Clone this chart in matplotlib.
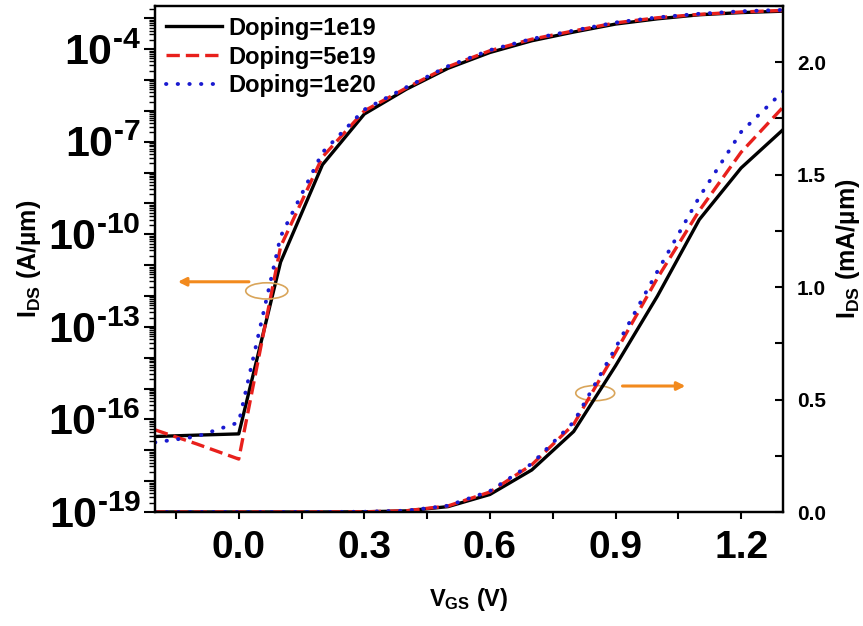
import numpy as np
import matplotlib
matplotlib.use("Agg")
import matplotlib.pyplot as plt
from matplotlib.ticker import FixedLocator, FuncFormatter, MultipleLocator
from matplotlib.patches import Ellipse

plt.rcParams['font.family'] = ['Liberation Sans', 'DejaVu Sans']
plt.rcParams['font.weight'] = 'bold'
plt.rcParams['mathtext.fontset'] = 'custom'
plt.rcParams['mathtext.rm'] = 'Liberation Sans:bold'
plt.rcParams['mathtext.bf'] = 'Liberation Sans:bold'
plt.rcParams['mathtext.it'] = 'Liberation Sans:bold'
plt.rcParams['mathtext.default'] = 'bf'

# gate voltage (V)
vgs = [-0.2, -0.1, 0.0, 0.1, 0.2, 0.3, 0.4, 0.5, 0.6, 0.7, 0.8, 0.9, 1.0, 1.1, 1.2, 1.3]

# drain current (A/um) for each doping level
ids_1e19 = [2.8e-17, 3.1e-17, 3.4e-17, 1.26e-11, 1.8e-8, 7.9e-7, 5.0e-6, 2.4e-5,
            7.8e-5, 1.87e-4, 3.58e-4, 6.5e-4, 9.6e-4, 1.30e-3, 1.53e-3, 1.70e-3]
ids_5e19 = [4.6e-17, 1.6e-17, 5.2e-18, 4.0e-11, 3.2e-8, 1.0e-6, 5.5e-6, 2.7e-5,
            8.9e-5, 2.1e-4, 3.9e-4, 7.1e-4, 1.04e-3, 1.34e-3, 1.60e-3, 1.80e-3]
ids_1e20 = [1.8e-17, 2.8e-17, 8.0e-17, 8.5e-11, 4.5e-8, 1.1e-6, 5.8e-6, 2.8e-5,
            9.3e-5, 2.15e-4, 4.0e-4, 7.3e-4, 1.07e-3, 1.40e-3, 1.69e-3, 1.87e-3]

labels = ['Doping=1e19', 'Doping=5e19', 'Doping=1e20']
series = [ids_1e19, ids_5e19, ids_1e20]
colors = ['black', '#e8201c', '#1a1ad0']
styles = ['-', (0, (4, 1.8)), (0, (0.1, 2.9))]
caps = ['butt', 'butt', 'round']
widths = [2.4, 2.4, 2.8]

fig = plt.figure(figsize=(8.63, 6.26), dpi=100)
ax = fig.add_axes([0.1796, 0.1821, 0.7277, 0.8083])
ax2 = ax.twinx()

lines = []
for y, c, ls, cap, w, lab in zip(series, colors, styles, caps, widths, labels):
    y = np.array(y)
    l, = ax.plot(vgs, y, color=c, ls=ls, lw=w, label=lab, dash_capstyle=cap)
    ax2.plot(vgs, y * 1e3, color=c, ls=ls, lw=w, dash_capstyle=cap)
    lines.append(l)

ax.set_yscale('log')
ax.set_xlim(-0.2, 1.3)
ax.set_ylim(1e-19, 2.5e-3)
ax2.set_ylim(0, 2.25)

# left axis: a tick every decade, a label every third decade
decades = [10.0 ** e for e in range(-19, -2)]
ax.yaxis.set_major_locator(FixedLocator(decades))
ax.yaxis.set_major_formatter(FuncFormatter(
    lambda v, p: r'$10^{\text{-%d}}$' % -round(np.log10(v)) if round(np.log10(v)) % 3 == 2 else ''))
subs = [m * 10.0 ** e for e in range(-19, -2) for m in range(2, 10)]
ax.yaxis.set_minor_locator(FixedLocator(subs))
ax.yaxis.set_minor_formatter(FuncFormatter(lambda v, p: ''))

ax.xaxis.set_major_locator(MultipleLocator(0.3))
ax.xaxis.set_minor_locator(MultipleLocator(0.15))
ax.xaxis.set_major_formatter(FuncFormatter(lambda v, p: '%.1f' % v))

ax2.yaxis.set_major_locator(MultipleLocator(0.5))
ax2.yaxis.set_minor_locator(MultipleLocator(0.25))
ax2.yaxis.set_major_formatter(FuncFormatter(lambda v, p: '%.1f' % v))

ax.tick_params(axis='y', which='major', direction='out', length=8, width=1.5, labelsize=31, pad=2)
ax.tick_params(axis='y', which='minor', direction='out', length=4, width=1.0)
ax.tick_params(axis='x', which='both', direction='out', length=5, width=1.5, labelsize=28, pad=8)
ax2.tick_params(axis='y', which='both', direction='in', length=6, width=1.5, labelsize=15, pad=10)

for a in (ax, ax2):
    for s in a.spines.values():
        s.set_linewidth(1.6)

ax.set_xlabel(r'$V_{GS}$ (V)', fontsize=17, fontweight='bold', labelpad=14)
ax.set_ylabel(r'$I_{DS}$ (A/µm)', fontsize=18, fontweight='bold', labelpad=4)
ax2.set_ylabel(r'$I_{DS}$ (mA/µm)', fontsize=18, fontweight='bold', labelpad=6)
ax2.yaxis.set_label_coords(1.082, 0.52)

# guide ellipses and arrows
ax.add_patch(Ellipse((0.178, 0.437), 0.067, 0.032, transform=ax.transAxes,
                     fill=False, ec='#d9a55a', lw=1.2, zorder=5))
ax.annotate('', xy=(0.032, 0.455), xytext=(0.154, 0.455), xycoords='axes fraction',
            arrowprops=dict(arrowstyle='-|>', color='#f28a1e', lw=2.2, mutation_scale=12))
ax.add_patch(Ellipse((0.701, 0.235), 0.062, 0.030, transform=ax.transAxes,
                     fill=False, ec='#d9a55a', lw=1.2, zorder=5))
ax.annotate('', xy=(0.849, 0.249), xytext=(0.740, 0.249), xycoords='axes fraction',
            arrowprops=dict(arrowstyle='-|>', color='#f28a1e', lw=2.2, mutation_scale=12))

ax2.legend(lines, labels, loc='upper left', frameon=False, fontsize=17,
           handlelength=2.4, handletextpad=0.25, labelspacing=0.25,
           borderaxespad=0.1, borderpad=0.35)

fig.savefig('out.png', dpi=100)
